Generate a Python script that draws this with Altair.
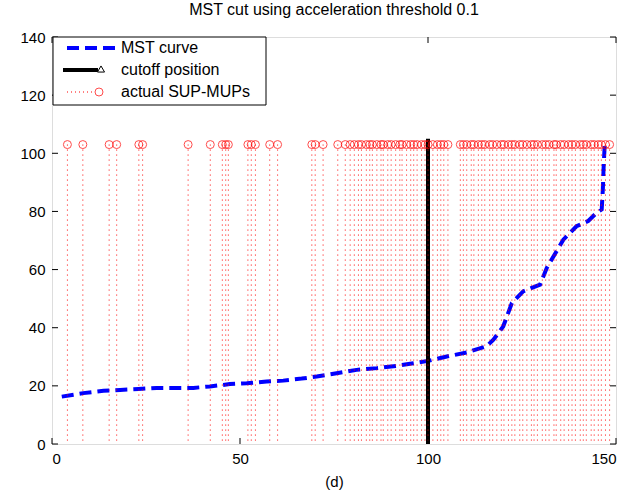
import altair as alt
import pandas as pd

FONT = "Liberation Sans"

# MST curve
mst_x = [2.6, 8.3, 13.7, 18.1, 23.0, 27.8, 32.2, 37.6, 42.0, 47.3, 51.8, 57.1, 61.5,
         66.4, 70.4, 76.1, 81.0, 86.4, 91.7, 96.1, 100.1, 105.0, 110.3, 115.6, 117.4,
         120.0, 122.3, 125.3, 129.8, 131.6, 136.0, 139.5, 142.6, 144.9, 146.2, 146.5,
         146.7, 147.0]
mst_y = [16.3, 17.5, 18.3, 18.6, 18.9, 19.3, 19.3, 19.3, 19.8, 20.6, 20.9, 21.5, 21.8,
         22.5, 23.2, 24.4, 25.5, 26.1, 26.9, 27.8, 28.6, 30.1, 31.5, 33.6, 35.9,
         40.4, 48.5, 52.5, 54.8, 60.6, 70.3, 74.9, 76.7, 79.6, 80.7, 87.6,
         95.0, 103.0]

# actual SUP-MUP positions
sup_x = [4.1, 8.2, 15.2, 17.2, 23.1, 24.1, 36.2, 42.1, 45.3, 46.2, 46.9, 52.1, 53.0,
         54.1, 57.9, 60.0, 69.1, 70.0, 72.1, 76.0, 78.0,
         79.3, 80.4, 81.5, 82.3, 83.6, 84.5, 85.2, 86.4, 87.5, 88.1, 89.3, 90.2, 91.4,
         92.5, 93.1, 94.3, 95.4, 96.2, 97.1, 98.3, 99.2, 100.0, 101.3, 102.5, 103.4,
         104.2, 105.3, 108.6, 109.4, 110.3, 111.5, 112.2, 113.4, 114.3, 115.1, 116.4,
         117.2, 118.3, 119.5, 120.2, 121.4, 122.3, 123.1, 124.4, 125.2, 126.3, 127.5,
         128.2, 129.1, 130.4, 131.3, 132.2, 133.5, 134.1, 135.3, 136.2, 137.4, 138.3,
         139.2, 140.5, 141.3, 142.1, 143.4, 144.2, 145.3, 146.1, 147.2, 148.3]
sup_level = 103

cutoff_x = [100]
cutoff_top = 105

x_ticks = [0, 50, 100, 150]
y_ticks = [0, 20, 40, 60, 80, 100, 120, 140]

legend_labels = ["MST curve", "cutoff position", "actual SUP-MUPs"]

W, H = 564, 407

mst_df = pd.DataFrame({"x": mst_x, "y": mst_y})
sup_df = pd.DataFrame({"x": sup_x})
cut_df = pd.DataFrame({"x": cutoff_x})
xt_df = pd.DataFrame({"x": x_ticks})
yt_df = pd.DataFrame({"y": y_ticks})
one = pd.DataFrame({"k": [0]})

xs = alt.Scale(domain=[0, 150], nice=False, zero=False)
ys = alt.Scale(domain=[0, 140], nice=False, zero=False)

xaxis = alt.Axis(values=x_ticks, title="(d)", grid=False, domain=False, ticks=False,
                 labelPadding=7, labelFontSize=15, titleFontSize=15,
                 titleFontWeight="normal", titlePadding=8, labelFont=FONT,
                 titleFont=FONT, labelColor="#000", titleColor="#000")
yaxis = alt.Axis(values=y_ticks, title=None, grid=False, domain=False, ticks=False,
                 labelPadding=7, labelFontSize=15, labelFont=FONT, labelColor="#000")

X = alt.X("x:Q", scale=xs, axis=xaxis)
Y = alt.Y("y:Q", scale=ys, axis=yaxis)

curve = alt.Chart(mst_df).mark_line(color="#0000ff", strokeWidth=4,
                                    strokeDash=[12, 6]).encode(x=X, y=Y)

cut = alt.Chart(cut_df).mark_rule(color="#000000", strokeWidth=4).encode(
    x=X,
    y=alt.YDatum(cutoff_top, scale=ys, axis=yaxis),
    y2=alt.Y2Datum(0),
)

sup_lines = alt.Chart(sup_df).mark_rule(color="#ff0000", strokeWidth=1,
                                        strokeDash=[1, 4]).encode(
    x=X,
    y=alt.YDatum(sup_level, scale=ys, axis=yaxis),
    y2=alt.Y2Datum(0),
)

sup_pts = alt.Chart(sup_df).mark_point(shape="circle", size=64, filled=False,
                                       color="#ff0000", strokeWidth=1).encode(
    x=X,
    y=alt.YDatum(sup_level, scale=ys, axis=yaxis),
)

# inward ticks on all four sides
tb = alt.Chart(xt_df).mark_rule(color="#000", strokeWidth=1).encode(
    x=X, y=alt.value(H), y2=alt.value(H - 6))
tt = alt.Chart(xt_df).mark_rule(color="#000", strokeWidth=1).encode(
    x=X, y=alt.value(0), y2=alt.value(6))
tl = alt.Chart(yt_df).mark_rule(color="#000", strokeWidth=1).encode(
    y=Y, x=alt.value(0), x2=alt.value(6))
tr = alt.Chart(yt_df).mark_rule(color="#000", strokeWidth=1).encode(
    y=Y, x=alt.value(W), x2=alt.value(W - 6))

# legend box
leg_box = alt.Chart(one).mark_rect(fill="#ffffff", stroke="#000000", strokeWidth=1).encode(
    x=alt.value(1), x2=alt.value(214), y=alt.value(0), y2=alt.value(68))
leg_blue = alt.Chart(one).mark_rule(color="#0000ff", strokeWidth=4,
                                    strokeDash=[12, 6]).encode(
    x=alt.value(15), x2=alt.value(63), y=alt.value(11))
leg_black = alt.Chart(one).mark_rule(color="#000000", strokeWidth=4).encode(
    x=alt.value(11), x2=alt.value(46), y=alt.value(33))
leg_tri = alt.Chart(one).mark_point(shape="triangle-up", filled=True, fill="#ffffff",
                                    stroke="#000000", strokeWidth=1, size=50,
                                    opacity=1).encode(
    x=alt.value(49), y=alt.value(32))
leg_red = alt.Chart(one).mark_rule(color="#ff0000", strokeWidth=1,
                                   strokeDash=[1, 3]).encode(
    x=alt.value(15), x2=alt.value(43), y=alt.value(55))
leg_circ = alt.Chart(one).mark_point(shape="circle", size=64, filled=False,
                                     color="#ff0000", strokeWidth=1).encode(
    x=alt.value(47), y=alt.value(55))
leg_texts = [
    alt.Chart(one).mark_text(align="left", baseline="middle", fontSize=16, font=FONT,
                             color="#000").encode(
        x=alt.value(69), y=alt.value(yy), text=alt.value(lbl))
    for lbl, yy in zip(legend_labels, [11, 33, 55])
]

chart = alt.layer(
    curve, cut, sup_lines, sup_pts, tb, tt, tl, tr,
    leg_box, leg_blue, leg_black, leg_tri, leg_red, leg_circ, *leg_texts
).properties(
    width=W, height=H,
    title=alt.TitleParams("MST cut using acceleration threshold 0.1", fontSize=16,
                          font=FONT, fontWeight="normal", color="#000", offset=12,
                          anchor="middle"),
    autosize=alt.AutoSizeParams(type="none"),
    padding={"left": 52, "top": 37, "right": 16, "bottom": 50},
).configure_view(stroke="#000000", strokeWidth=1).configure(background="#ffffff")

chart.save("out.html", embed_options={"renderer": "svg", "actions": False})
